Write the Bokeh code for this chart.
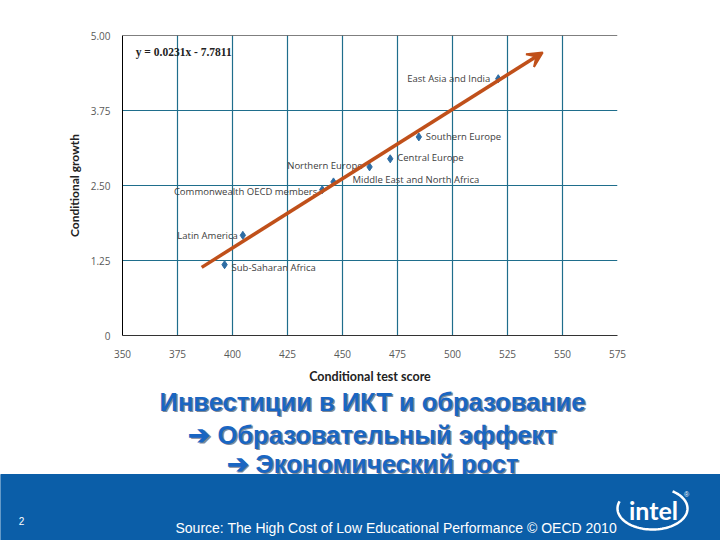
import numpy as np
from bokeh.plotting import figure
from bokeh.layouts import column
from bokeh.models import Range1d, FixedTicker, Span, Arrow, VeeHead, Label, ColumnDataSource
from bokeh.core.properties import value, field
from bokeh.embed import file_html
from bokeh.resources import INLINE

# ---------------- data ----------------
regions = ["East Asia and India", "Southern Europe", "Central Europe", "Northern Europe",
           "Middle East and North Africa", "Commonwealth OECD members", "Latin America",
           "Sub-Saharan Africa"]
test_score = [520.8, 484.7, 471.7, 462.3, 445.9, 440.8, 404.7, 396.4]
cond_growth = [4.28, 3.31, 2.945, 2.81, 2.56, 2.43, 1.67, 1.18]

x_ticks = [350, 375, 400, 425, 450, 475, 500, 525, 550, 575]
y_ticks = [0, 1.25, 2.5, 3.75, 5]
y_tick_labels = ["0", "1.25", "2.50", "3.75", "5.00"]

slope = 0.0231
intercept = -7.7811
trend_x = [386, 541]
equation = "y = 0.0231x - 7.7811"

title_lines = ["Инвестиции в ИКТ и образование",
               "\u2794 Образовательный эффект",
               "\u2794 Экономический рост"]
source_text = "Source: The High Cost of Low Educational Performance \u00a9 OECD 2010"
page_number = "2"

# ---------------- label layout (style, not data) ----------------
label_align = ["right", "left", "left", "right", "left", "right", "right", "left"]
label_dx = [-8, 7, 7, -7, 19, -5, -5, 7]
label_dy = [0, 0, -1, -1, -2, 2, 0, 3]

GRID = "#1F6E8C"
ARROW = "#C0501A"
POINT = "#2E6DA4"

p = figure(width=720, height=386, x_range=Range1d(350, 575), y_range=Range1d(0, 5),
           output_backend="svg", toolbar_location=None, title=None,
           min_border_left=122, min_border_right=103, min_border_top=35, min_border_bottom=50)
p.frame_align = False
p.outline_line_color = None
p.background_fill_color = "white"

for ax in (p.xaxis[0], p.yaxis[0]):
    ax.major_tick_line_color = None
    ax.minor_tick_line_color = None
    ax.major_tick_out = 0
    ax.minor_tick_out = 0
    ax.major_tick_in = 0
    ax.minor_tick_in = 0
    ax.major_label_text_color = "#595959"
    ax.major_label_text_font = "Open Sans"
    ax.major_label_text_font_size = "10px"
    ax.axis_label_text_font = "Lato"
    ax.axis_label_text_font_style = "bold"
    ax.axis_label_text_font_size = "12px"
    ax.axis_label_text_color = "#222222"

p.xaxis.axis_label_text_font_size = "12.5px"
p.xaxis.ticker = FixedTicker(ticks=x_ticks)
p.yaxis.ticker = FixedTicker(ticks=y_ticks)
p.yaxis.major_label_overrides = {t: l for t, l in zip(y_ticks, y_tick_labels)}
p.xaxis.axis_label = "Conditional test score"
p.yaxis.axis_label = "Conditional growth"
p.xaxis.major_label_standoff = 14
p.xaxis.axis_label_standoff = 8
p.yaxis.major_label_standoff = 12
p.yaxis.axis_label_standoff = 6
p.xaxis.axis_line_color = "#333333"
p.yaxis.axis_line_color = "black"

p.xgrid.grid_line_color = GRID
p.ygrid.grid_line_color = GRID
p.xgrid.grid_line_alpha = 1
p.ygrid.grid_line_alpha = 1
p.xgrid.grid_line_width = 1.2
p.ygrid.grid_line_width = 1.2

p.add_layout(Span(location=y_ticks[-1], dimension="width", line_color="black", line_width=1.2))

src = ColumnDataSource(dict(x=test_score, y=cond_growth, name=regions,
                            align=label_align, dx=label_dx, dy=label_dy))

p.add_layout(Arrow(end=VeeHead(size=15, fill_color=ARROW, line_color=ARROW, line_width=2),
                   x_start=trend_x[0], y_start=slope * trend_x[0] + intercept,
                   x_end=trend_x[1], y_end=slope * trend_x[1] + intercept,
                   line_color=ARROW, line_width=3.5))

p.scatter(x="x", y="y", source=src, marker="diamond", size=8, color=POINT)
p.text(x="x", y="y", text="name", source=src, text_align=field("align"),
       x_offset=field("dx"), y_offset=field("dy"), text_baseline="middle",
       text_font=value("Open Sans"), text_font_size="9.5px", text_color="#404040")

p.add_layout(Label(x=356, y=4.73, text=equation, text_font="Liberation Serif",
                   text_font_style="bold", text_font_size="11.5px", text_baseline="middle",
                   text_color="#222222"))

# ---------------- slide part ----------------
q = figure(width=720, height=154, x_range=Range1d(0, 720), y_range=Range1d(154, 0),
           x_axis_type=None, y_axis_type=None, output_backend="svg", toolbar_location=None,
           title=None, min_border=0)
q.frame_align = False
q.outline_line_color = None
q.xgrid.visible = False
q.ygrid.visible = False

title_y = [15, 48, 77]
q.text(x=[373.5] * 3, y=[t + 1.5 for t in title_y], text=title_lines, text_align="center",
       text_baseline="middle", text_font=value("Liberation Sans"), text_font_style="bold",
       text_font_size="25.5px", text_color="#7F8A99")
q.text(x=[372] * 3, y=title_y, text=title_lines, text_align="center",
       text_baseline="middle", text_font=value("Liberation Sans"), text_font_style="bold",
       text_font_size="25.5px", text_color="#1A66C2")

q.quad(left=[0], right=[720], top=[88], bottom=[154], color="#0B5EA8")
q.text(x=[21], y=[134], text=[page_number], text_align="center", text_baseline="middle",
       text_font=value("Liberation Sans"), text_font_size="10px", text_color="white")
q.text(x=[175], y=[141], text=[source_text], text_align="left", text_baseline="middle",
       text_font=value("Liberation Sans"), text_font_size="14px", text_color="white")

# intel logo
t = np.radians(np.linspace(160, 415, 80))
q.line(x=652 + 35 * np.cos(t), y=122 - 21 * np.sin(t), line_color="white", line_width=2.5)
q.text(x=[653], y=[123], text=["intel"], text_align="center", text_baseline="middle",
       text_font=value("Lato"), text_font_style="bold", text_font_size="25px", text_color="white")
q.text(x=[686], y=[108], text=["\u00ae"], text_align="center", text_baseline="middle",
       text_font=value("Liberation Sans"), text_font_size="7px", text_color="white")

layout = column(p, q, spacing=0)
open("out.html", "w").write(file_html(layout, INLINE))
